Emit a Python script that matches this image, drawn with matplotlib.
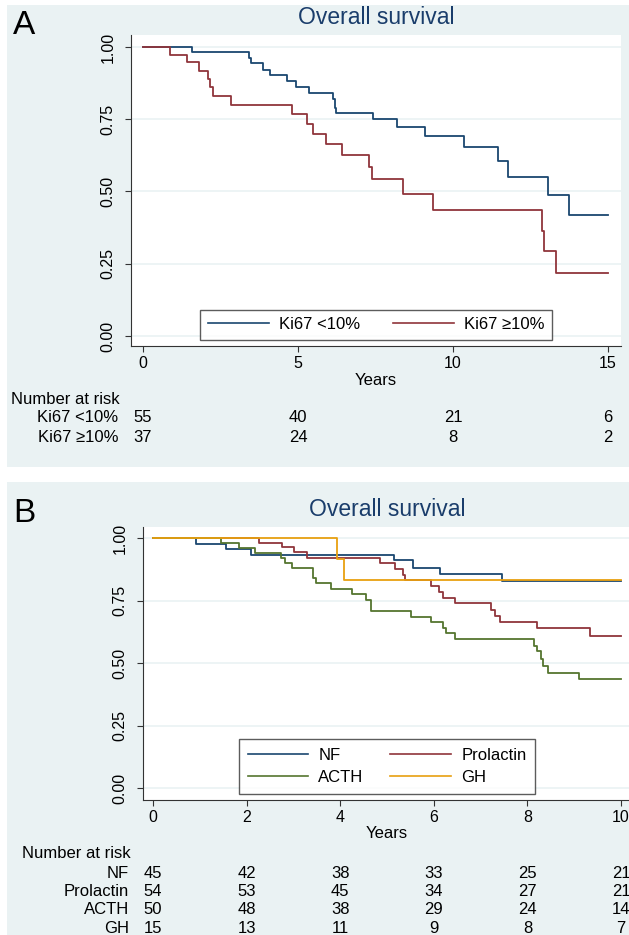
import matplotlib
matplotlib.use('Agg')
import matplotlib.pyplot as plt
from matplotlib.patches import Rectangle
from matplotlib.lines import Line2D
from matplotlib.transforms import blended_transform_factory

plt.rcParams['font.family'] = ['Liberation Sans', 'DejaVu Sans']

# ---- data ----
# panel A: Ki67
ki_low_t = [0, 1.59, 3.42, 3.47, 3.88, 4.09, 4.64, 4.93, 5.37, 6.13, 6.19, 6.24, 7.43, 8.19, 9.11, 10.36, 11.46, 11.79, 13.07, 13.74, 15]
ki_low_s = [1.0, 0.982, 0.963, 0.945, 0.922, 0.904, 0.882, 0.862, 0.841, 0.82, 0.79, 0.772, 0.75, 0.723, 0.693, 0.655, 0.604, 0.549, 0.489, 0.42, 0.42]
ki_high_t = [0, 0.87, 1.43, 1.82, 2.11, 2.17, 2.26, 2.85, 4.80, 5.28, 5.48, 5.91, 6.43, 7.29, 7.40, 8.38, 9.36, 12.88, 12.94, 13.31, 15]
ki_high_s = [1.0, 0.973, 0.947, 0.917, 0.89, 0.862, 0.832, 0.80, 0.767, 0.732, 0.698, 0.664, 0.625, 0.584, 0.544, 0.492, 0.435, 0.362, 0.293, 0.218, 0.218]

risk_a_times = [0, 5, 10, 15]
risk_a_labels = ['Ki67 <10%', 'Ki67 \u226510%']
risk_a = [[55, 40, 21, 6], [37, 24, 8, 2]]

# panel B: tumour type
nf_t = [0, 0.92, 1.57, 2.10, 5.14, 5.55, 6.14, 7.46, 10]
nf_s = [1.0, 0.978, 0.956, 0.934, 0.911, 0.88, 0.857, 0.828, 0.828]
prl_t = [0, 2.27, 2.76, 3.01, 3.29, 4.84, 5.16, 5.34, 5.38, 5.93, 6.11, 6.20, 6.45, 7.23, 7.30, 7.41, 8.20, 9.34, 10]
prl_s = [1.0, 0.981, 0.963, 0.944, 0.92, 0.90, 0.876, 0.853, 0.833, 0.809, 0.783, 0.759, 0.74, 0.713, 0.687, 0.664, 0.64, 0.609, 0.609]
acth_t = [0, 1.46, 1.84, 2.18, 2.74, 2.83, 2.98, 3.42, 3.48, 3.80, 4.25, 4.54, 4.65, 5.52, 5.95, 6.20, 6.25, 6.45, 8.15, 8.20, 8.28, 8.33, 8.44, 9.11, 10]
acth_s = [1.0, 0.98, 0.96, 0.94, 0.92, 0.90, 0.88, 0.84, 0.82, 0.797, 0.777, 0.753, 0.71, 0.684, 0.664, 0.64, 0.62, 0.596, 0.569, 0.547, 0.516, 0.489, 0.46, 0.436, 0.436]
gh_t = [0, 3.93, 4.07, 10]
gh_s = [1.0, 0.917, 0.833, 0.833]

risk_b_times = [0, 2, 4, 6, 8, 10]
risk_b_labels = ['NF', 'Prolactin', 'ACTH', 'GH']
risk_b = [[45, 42, 38, 33, 25, 21],
          [54, 53, 45, 34, 27, 21],
          [50, 48, 38, 29, 24, 14],
          [15, 13, 11, 9, 8, 7]]

W, H = 629, 935
BG = '#eaf2f3'
NAVY = '#1a476f'
MAROON = '#90353b'
GREEN = '#55752f'
ORANGE = '#e8a010'
TITLE = '#1a3d6b'


def fx(px):
    return px / W


def fy(py):
    return 1 - py / H


def rect(l, t, r, b):
    return [l / W, 1 - b / H, (r - l) / W, (b - t) / H]


fig = plt.figure(figsize=(W / 100, H / 100), dpi=100)
fig.patch.set_facecolor('white')
fig.add_artist(Rectangle((fx(7), fy(467)), (629 - 7) / W, (467 - 5) / H,
                         transform=fig.transFigure, facecolor=BG, edgecolor='none', zorder=0))
fig.add_artist(Rectangle((fx(7), fy(935)), (629 - 7) / W, (935 - 482) / H,
                         transform=fig.transFigure, facecolor=BG, edgecolor='none', zorder=0))


def style_axes(ax, xticks, xlim, ylim):
    ax.set_xlim(*xlim)
    ax.set_ylim(*ylim)
    ax.set_facecolor('white')
    ax.spines['top'].set_visible(False)
    ax.spines['right'].set_visible(False)
    ax.spines['left'].set_color('#333333')
    ax.spines['bottom'].set_color('#333333')
    ax.set_yticks([0, 0.25, 0.5, 0.75, 1.0])
    ax.set_yticklabels(['0.00', '0.25', '0.50', '0.75', '1.00'], rotation=90, va='center')
    ax.set_xticks(xticks)
    ax.set_xticklabels([str(t) for t in xticks])
    ax.tick_params(axis='y', length=4, pad=7, labelsize=11.5, colors='#333333', labelcolor='black')
    ax.tick_params(axis='x', length=4, pad=3, labelsize=11.5, colors='#333333', labelcolor='black')
    for yv in [0, 0.25, 0.5, 0.75, 1.0]:
        ax.axhline(yv, color=BG, lw=1.2, zorder=0)


# ---------- panel A ----------
axA = fig.add_axes(rect(131, 35, 621, 346))
style_axes(axA, [0, 5, 10, 15], (-0.387, 15.42), (-0.0346, 1.0415))
axA.step(ki_low_t, ki_low_s, where='post', color=NAVY, lw=1.3, label='Ki67 <10%')
axA.step(ki_high_t, ki_high_s, where='post', color=MAROON, lw=1.3, label='Ki67 \u226510%')
legA = fig.legend(handles=[Line2D([], [], color=NAVY, lw=1.2), Line2D([], [], color=MAROON, lw=1.2)],
                  labels=['Ki67 <10%', 'Ki67 \u226510%'], ncol=2, loc='center',
                  bbox_to_anchor=(fx(376), fy(324.5)), frameon=True, fancybox=False,
                  edgecolor='#333333', fontsize=12, handlelength=3.65, handletextpad=0.6,
                  columnspacing=2.0, borderpad=0.45, borderaxespad=0)
legA.get_frame().set_linewidth(1.0)

fig.text(fx(376), fy(18), 'Overall survival', ha='center', va='center', fontsize=16.5, color=TITLE)
fig.text(fx(13), fy(25), 'A', ha='left', va='center', fontsize=24)
fig.text(fx(376), fy(380), 'Years', ha='center', va='center', fontsize=12)
fig.text(fx(11), fy(400), 'Number at risk', ha='left', va='center', fontsize=12)
trA = blended_transform_factory(axA.transData, fig.transFigure)
for row, (lab, vals) in enumerate(zip(risk_a_labels, risk_a)):
    yy = fy(418 + row * 19)
    fig.text(fx(118), yy, lab, ha='right', va='center', fontsize=12)
    for t, v in zip(risk_a_times, vals):
        axA.text(t, yy, str(v), transform=trA, ha='center', va='center', fontsize=12, clip_on=False)

# ---------- panel B ----------
axB = fig.add_axes(rect(143, 527, 629, 800))
style_axes(axB, [0, 2, 4, 6, 8, 10], (-0.214, 10.17), (-0.048, 1.044))
axB.step(nf_t, nf_s, where='post', color=NAVY, lw=1.3)
axB.step(prl_t, prl_s, where='post', color=MAROON, lw=1.3)
axB.step(acth_t, acth_s, where='post', color=GREEN, lw=1.3)
axB.step(gh_t, gh_s, where='post', color=ORANGE, lw=1.3)
legB = fig.legend(handles=[Line2D([], [], color=NAVY, lw=1.2), Line2D([], [], color=GREEN, lw=1.2),
                           Line2D([], [], color=MAROON, lw=1.2), Line2D([], [], color=ORANGE, lw=1.2)],
                  labels=['NF', 'ACTH', 'Prolactin', 'GH'], ncol=2, loc='center',
                  bbox_to_anchor=(fx(387), fy(766.5)), frameon=True, fancybox=False,
                  edgecolor='#333333', fontsize=12, handlelength=3.65, handletextpad=0.6,
                  columnspacing=1.6, borderpad=0.5, labelspacing=0.45, borderaxespad=0)
legB.get_frame().set_linewidth(1.0)

fig.text(fx(387), fy(510), 'Overall survival', ha='center', va='center', fontsize=16.5, color=TITLE)
fig.text(fx(13), fy(514), 'B', ha='left', va='center', fontsize=24)
fig.text(fx(387), fy(833), 'Years', ha='center', va='center', fontsize=12)
fig.text(fx(22), fy(853), 'Number at risk', ha='left', va='center', fontsize=12)
trB = blended_transform_factory(axB.transData, fig.transFigure)
for row, (lab, vals) in enumerate(zip(risk_b_labels, risk_b)):
    yy = fy(873 + row * 18.5)
    fig.text(fx(129), yy, lab, ha='right', va='center', fontsize=12)
    for t, v in zip(risk_b_times, vals):
        axB.text(t, yy, str(v), transform=trB, ha='center', va='center', fontsize=12, clip_on=False)

fig.savefig('out.png', dpi=100)
